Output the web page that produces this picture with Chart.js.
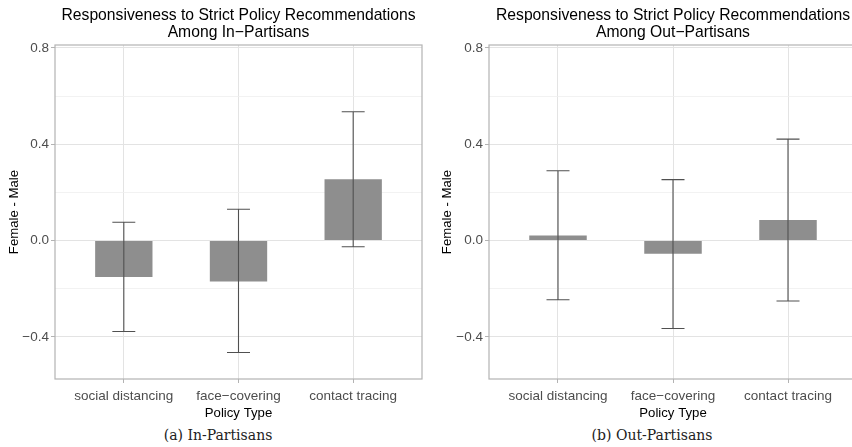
<!DOCTYPE html>
<html><head><meta charset="utf-8">
<script src="https://cdn.jsdelivr.net/npm/chart.js@4.4.0/dist/chart.umd.min.js"></script>
<style>
html,body{margin:0;padding:0;background:#fff;overflow:hidden;width:852px;height:447px;position:relative;}
.panel{position:absolute;top:0;height:422px;}
.cap{position:absolute;font-family:"DejaVu Serif",serif;font-size:14px;color:#222;transform:translateX(-50%);white-space:nowrap;}
</style></head><body>
<div class="panel" style="left:0;width:430px;"><canvas id="c1"></canvas></div>
<div class="panel" style="left:430px;width:440px;"><canvas id="c2"></canvas></div>
<div class="cap" style="left:218px;top:427px">(a) In-Partisans</div>
<div class="cap" style="left:652px;top:427px">(b) Out-Partisans</div>
<script>
const categories = ['social distancing', 'face\u2212covering', 'contact tracing'];
const inEstimate = [-0.151, -0.170, 0.254];
const inLower    = [-0.378, -0.465, -0.026];
const inUpper    = [0.076, 0.130, 0.535];
const outEstimate = [0.021, -0.055, 0.085];
const outLower    = [-0.246, -0.365, -0.251];
const outUpper    = [0.290, 0.253, 0.421];
const yMajorTicks = [-0.4, 0, 0.4, 0.8];
const yMinorTicks = [-0.2, 0.2, 0.6];
const yTickLabels = ['\u22120.4', '0.0', '0.4', '0.8'];
const titleIn  = ['Responsiveness to Strict Policy Recommendations', 'Among In\u2212Partisans'];
const titleOut = ['Responsiveness to Strict Policy Recommendations', 'Among Out\u2212Partisans'];
const yTitle = 'Female - Male';
const xTitle = 'Policy Type';

const FONT = '"Liberation Sans", Arial, Helvetica, sans-serif';
const GRID_MAJOR = '#e3e3e3', GRID_MINOR = '#efefef', BORDER = '#b3b3b3';

function isMajor(v){ return yMajorTicks.some(t => Math.abs(t - v) < 1e-9); }

function makeErrorPlugin(lower, upper){
  return {
    id: 'errorBars',
    afterDatasetsDraw(chart){
      const {ctx, scales:{x, y}} = chart;
      ctx.save();
      ctx.strokeStyle = '#505050';
      ctx.lineWidth = 1.1;
      lower.forEach((lo, i) => {
        const hi = upper[i];
        const cx = x.getPixelForValue(i + 1);
        const hw = x.getPixelForValue(i + 1 + 0.1) - cx;
        const yl = y.getPixelForValue(lo), yh = y.getPixelForValue(hi);
        ctx.beginPath();
        ctx.moveTo(cx, yl); ctx.lineTo(cx, yh);
        ctx.moveTo(cx - hw, yl); ctx.lineTo(cx + hw, yl);
        ctx.moveTo(cx - hw, yh); ctx.lineTo(cx + hw, yh);
        ctx.stroke();
      });
      ctx.restore();
    }
  };
}
const borderPlugin = {
  id: 'panelBorder',
  afterDraw(chart){
    const {ctx, chartArea:a} = chart;
    ctx.save();
    ctx.strokeStyle = BORDER; ctx.lineWidth = 1.2;
    ctx.strokeRect(a.left, a.top, a.right - a.left, a.bottom - a.top);
    ctx.restore();
  }
};

function makeChart(id, est, lower, upper, title, yAxisWidth, yTitlePad, padRight){
  return new Chart(document.getElementById(id), {
    type: 'bar',
    data: {
      datasets: [{
        data: est.map((v, i) => ({x: i + 1, y: v})),
        backgroundColor: '#8e8e8e',
        borderWidth: 0,
        categoryPercentage: 1.0,
        barPercentage: 0.5
      }]
    },
    options: {
      responsive: true, maintainAspectRatio: false, animation: false, devicePixelRatio: 1,
      layout: {padding: {left: 0, right: padRight, top: 0, bottom: 0}},
      plugins: {
        legend: {display: false}, tooltip: {enabled: false},
        title: {display: true, text: title, fullSize: false, color: '#000',
          font: {family: FONT, size: 15.7, weight: 'normal', lineHeight: 1.083},
          padding: {top: 7, bottom: 4}}
      },
      scales: {
        x: {
          type: 'linear', min: 0.4, max: 3.6, offset: false,
          afterBuildTicks(s){ s.ticks = categories.map((c, i) => ({value: i + 1})); },
          afterFit(s){ s.height = 43; },
          grid: {offset: false, color: GRID_MAJOR, lineWidth: 1, tickColor: BORDER, tickLength: 4, drawTicks: true},
          border: {display: false},
          ticks: {autoSkip: false, maxRotation: 0, padding: 5, color: '#4d4d4d',
            font: {family: FONT, size: 13.5}, callback: v => categories[Math.round(v) - 1]},
          title: {display: true, text: xTitle, color: '#000', font: {family: FONT, size: 13.2}, padding: {top: 0, bottom: 1.2}}
        },
        y: {
          type: 'linear', min: -0.575, max: 0.812,
          afterBuildTicks(s){ s.ticks = yMajorTicks.concat(yMinorTicks).sort((a, b) => a - b).map(v => ({value: v})); },
          afterFit(s){ s.width = yAxisWidth; },
          grid: {
            color: c => isMajor(c.tick.value) ? GRID_MAJOR : GRID_MINOR,
            lineWidth: c => isMajor(c.tick.value) ? 1 : 0.8,
            tickColor: c => isMajor(c.tick.value) ? BORDER : 'rgba(0,0,0,0)',
            tickLength: 4, drawTicks: true
          },
          border: {display: false},
          ticks: {autoSkip: false, padding: 2, color: '#4d4d4d', font: {family: FONT, size: 13.5},
            callback: v => { const i = yMajorTicks.findIndex(t => Math.abs(t - v) < 1e-9); return i >= 0 ? yTickLabels[i] : ''; }},
          title: {display: true, text: yTitle, color: '#000', font: {family: FONT, size: 13.2}, padding: {top: yTitlePad, bottom: 0}}
        }
      }
    },
    plugins: [makeErrorPlugin(lower, upper), borderPlugin]
  });
}
makeChart('c1', inEstimate, inLower, inUpper, titleIn, 55, 6.7, 8);
makeChart('c2', outEstimate, outLower, outUpper, titleOut, 59, 9.7, 13);
</script>
</body></html>
